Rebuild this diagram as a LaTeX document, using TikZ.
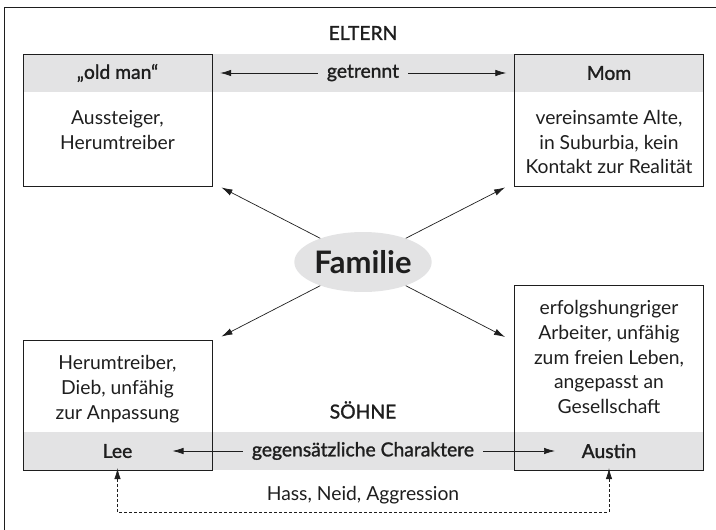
\documentclass[tikz,border=0pt]{standalone}
\usepackage{fontspec}
\setmainfont{Lato}
\newfontfamily\semib{Lato}[FakeBold=1.4]
\usetikzlibrary{shapes.geometric,arrows.meta,calc}
\definecolor{band}{HTML}{E3E3E4}
\definecolor{ink}{HTML}{1E1E1E}
\begin{document}
\begin{tikzpicture}[x=1pt,y=-1pt,
  every node/.style={text=ink, font=\fontsize{19.3}{24.7}\selectfont},
  box/.style={draw=ink, line width=0.9pt, minimum width=189pt, inner sep=0pt},
  head/.style={font=\semib\fontsize{19.3}{22}\selectfont, inner sep=0pt, minimum width=189pt, minimum height=38pt},
  title/.style={font=\semib\fontsize{19.3}{22}\selectfont, inner sep=0pt},
  body/.style={align=center, inner sep=0pt},
  link/.style={font=\semib\fontsize{19.3}{22}\selectfont, inner ysep=0pt, inner xsep=9pt},
  arr/.style={draw=ink, line width=0.7pt, -{Latex[length=11pt,width=6.5pt]}},
  darr/.style={draw=ink, line width=0.7pt, {Latex[length=11pt,width=6.5pt]}-{Latex[length=11pt,width=6.5pt]}, dash pattern=on 3pt off 2pt},
  ]
\useasboundingbox (0,0) rectangle (716,530);
% frame
\draw[ink, line width=0.9pt] (716,7) -- (4,7) -- (4,530);
% grey bands
\fill[band] (23,54) rectangle (703,92);
\fill[band] (23,432) rectangle (703,470);
% boxes
\node[box, minimum height=132pt] (obox) at (117.5,120) {};
\node[box, minimum height=132pt] (mbox) at (609,120) {};
\node[box, minimum height=130pt] (lbox) at (117.5,405) {};
\node[box, minimum height=185pt] (abox) at (609,377.5) {};
% titles
\node[title] (eltern) at (363,33) {ELTERN};
\node[title] (soehne) at (363,410) {SÖHNE};
% headers
\node[head] (om) at (117.5,73) {„old man“};
\node[head] (mom) at (609,73) {Mom};
\node[head] (lee) at (117.5,451) {Lee};
\node[head] (austin) at (609,451) {Austin};
% bodies
\node[body] (omt) at (117.5,130) {Aussteiger,\\Herumtreiber};
\node[body] (momt) at (609,142) {vereinsamte Alte,\\in Suburbia, kein\\Kontakt zur Realität};
\node[body] (leet) at (117.5,389) {Herumtreiber,\\Dieb, unfähig\\zur Anpassung};
\node[body] (austint) at (609,357) {erfolgshungriger\\Arbeiter, unfähig\\zum freien Leben,\\angepasst an\\Gesellschaft};
% links
\node[link] (getr) at (363,73) {getrennt};
\node[link] (gegen) at (363,451) {gegensätzliche Charaktere};
\node[inner sep=0pt] (hass) at (363,495) {Hass, Neid, Aggression};
% Familie
\node[ellipse, fill=band, minimum width=134pt, minimum height=60pt, inner sep=0pt,
      font=\bfseries\fontsize{31}{33}\selectfont] (fam) at (363,262) {Familie};
% arrows
\draw[arr] (getr.west) -- ($(om.east)+(8,0)$);
\draw[arr] (getr.east) -- ($(mom.west)+(-8,0)$);
\draw[arr] (gegen.west) -- ($(lee.center)+(55,0)$);
\draw[arr] (gegen.east) -- ($(austin.center)+(-54,0)$);
\draw[arr] (fam.151) -- ($(obox.south east)+(9,1)$);
\draw[arr] (fam.29) -- ($(mbox.south west)+(-9,1)$);
\draw[arr] (fam.209) -- ($(lbox.north east)+(9,-3)$);
\draw[arr] (fam.331) -- ($(abox.west)+(-9,-40.5)$);
\draw[darr] ([yshift=2pt]lee.south) -- ++(0,44) -| ([yshift=2pt]austin.south);
\end{tikzpicture}
\end{document}
